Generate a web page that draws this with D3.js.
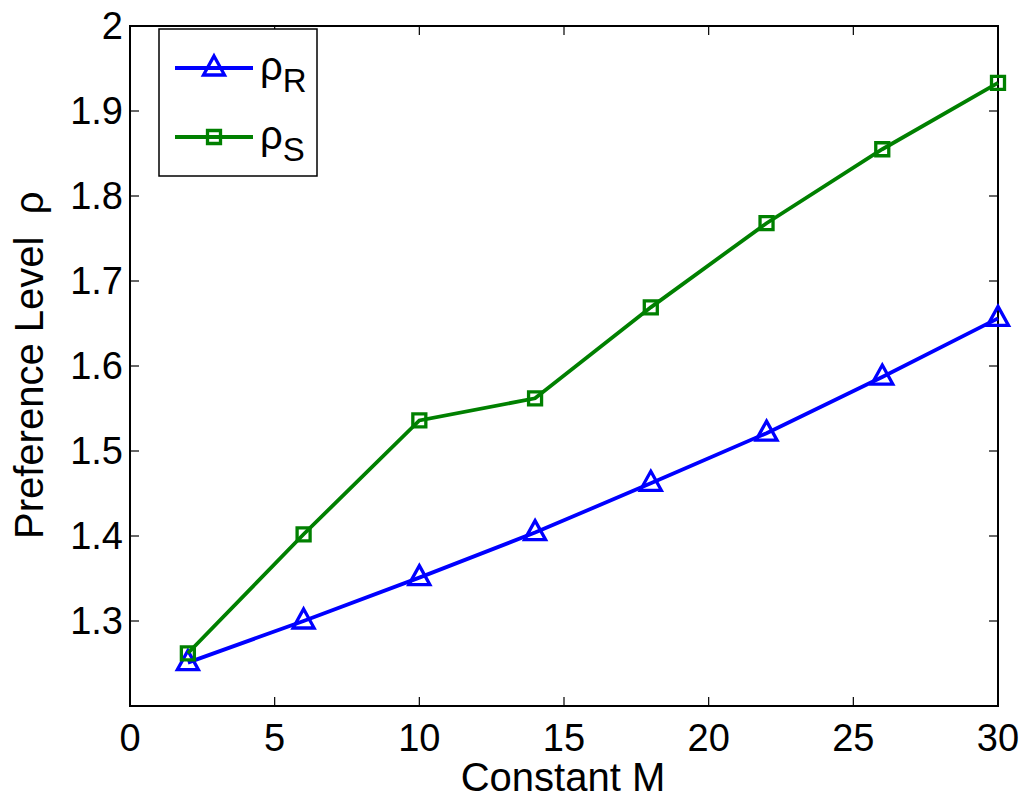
<!DOCTYPE html>
<html><head><meta charset="utf-8">
<script src="https://cdn.jsdelivr.net/npm/d3@7"></script>
<style>body{margin:0;background:#fff}svg{display:block}text{font-family:"Liberation Sans",Arial,sans-serif}</style>
</head><body>
<svg id="c" width="1025" height="798"></svg>
<script>
const mValues = [2, 6, 10, 14, 18, 22, 26, 30];
const rhoR = [1.251, 1.300, 1.351, 1.404, 1.462, 1.521, 1.587, 1.656];
const rhoS = [1.262, 1.402, 1.536, 1.562, 1.669, 1.768, 1.855, 1.933];
const xTicks = [0, 5, 10, 15, 20, 25, 30];
const yTicks = [1.3, 1.4, 1.5, 1.6, 1.7, 1.8, 1.9, 2];
const seriesNames = ["R", "S"];
const seriesColors = ["#0000ff", "#008000"];

const svg = d3.select("#c");
const L = 130, R = 998, T = 26, B = 706;
const x = d3.scaleLinear().domain([0, 30]).range([L, R]);
const y = d3.scaleLinear().domain([1.2, 2]).range([B, T]);
const fs = 38, lfs = 40, tl = 9;

// ticks on all sides, inward
const ax = svg.append("g").attr("stroke", "#000").attr("stroke-width", 1.2);
xTicks.forEach(t => {
  ax.append("line").attr("x1", x(t)).attr("x2", x(t)).attr("y1", B).attr("y2", B - tl);
  ax.append("line").attr("x1", x(t)).attr("x2", x(t)).attr("y1", T).attr("y2", T + tl);
});
yTicks.forEach(t => {
  ax.append("line").attr("y1", y(t)).attr("y2", y(t)).attr("x1", L).attr("x2", L + tl);
  ax.append("line").attr("y1", y(t)).attr("y2", y(t)).attr("x1", R).attr("x2", R - tl);
});
svg.append("rect").attr("x", L).attr("y", T).attr("width", R - L).attr("height", B - T)
  .attr("fill", "none").attr("stroke", "#000").attr("stroke-width", 2);

svg.append("g").selectAll("text").data(xTicks).join("text")
  .attr("x", d => x(d)).attr("y", 751).attr("text-anchor", "middle")
  .attr("font-size", fs).text(d => d);
svg.append("g").selectAll("text").data(yTicks).join("text")
  .attr("x", 123).attr("y", d => y(d)).attr("dy", "0.35em").attr("text-anchor", "end")
  .attr("font-size", fs).text(d => d3.format("")(d));

svg.append("text").attr("x", 563).attr("y", 791).attr("text-anchor", "middle")
  .attr("font-size", lfs).text("Constant M");
svg.append("text").attr("transform", `translate(43,539) rotate(-90)`)
  .attr("text-anchor", "start").attr("font-size", lfs).text("Preference Level\u00A0\u00A0ρ");

const line = d3.line().x((d, i) => x(mValues[i])).y(d => y(d));
const tri = "M0,-12L10.5,7L-10.5,7Z";
const sq = "M-6.5,-6.5H6.5V6.5H-6.5Z";

function marker(g, kind, cx, cy, col) {
  g.append("path").attr("d", kind === 0 ? tri : sq)
    .attr("transform", `translate(${cx},${cy})`)
    .attr("fill", "none").attr("stroke", col).attr("stroke-width", 3.3);
}

[rhoR, rhoS].forEach((vals, k) => {
  const g = svg.append("g");
  g.append("path").attr("d", line(vals)).attr("fill", "none")
    .attr("stroke", seriesColors[k]).attr("stroke-width", 3.8);
  vals.forEach((v, i) => marker(g, k, x(mValues[i]), y(v), seriesColors[k]));
});

// legend
const lg = svg.append("g");
lg.append("rect").attr("x", 159).attr("y", 29).attr("width", 158).attr("height", 147)
  .attr("fill", "#fff").attr("stroke", "#000").attr("stroke-width", 1.5);
const legY = [68, 137];
seriesNames.forEach((n, k) => {
  lg.append("line").attr("x1", 175).attr("x2", 253).attr("y1", legY[k]).attr("y2", legY[k])
    .attr("stroke", seriesColors[k]).attr("stroke-width", 3.8);
  marker(lg, k, 214, legY[k], seriesColors[k]);
  const t = lg.append("text").attr("x", 260).attr("y", legY[k] + 12).attr("font-size", lfs);
  t.append("tspan").text("ρ");
  t.append("tspan").attr("font-size", 33).attr("dy", 12).text(n);
});
</script>
</body></html>
